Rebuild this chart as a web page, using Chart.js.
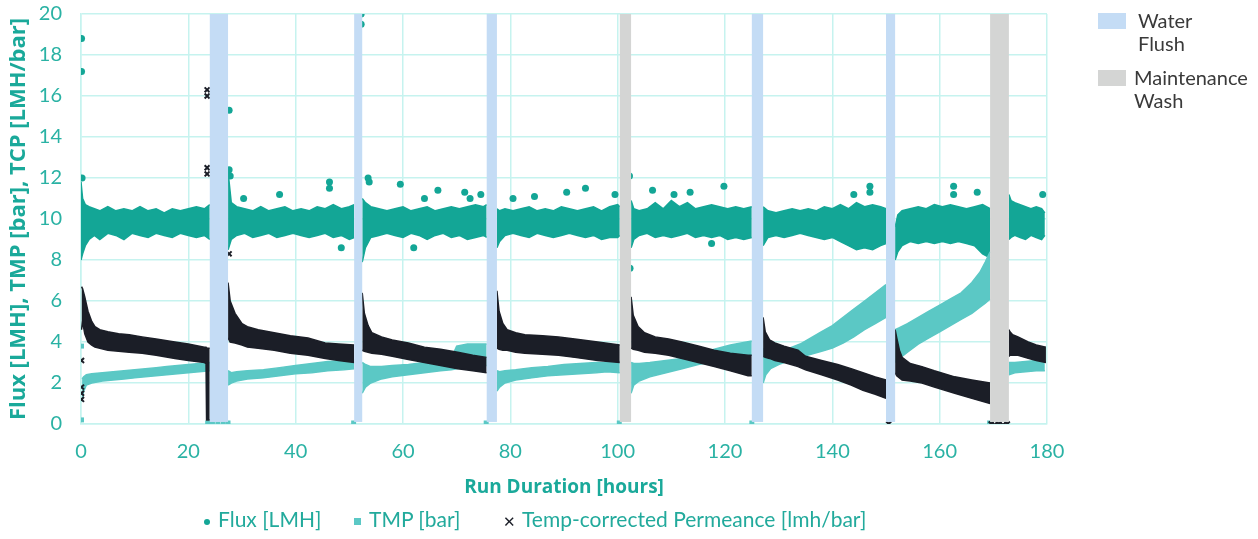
<!DOCTYPE html>
<html>
<head>
<meta charset="utf-8">
<script src="https://cdn.jsdelivr.net/npm/chart.js@4.4.0/dist/chart.umd.min.js"></script>
<style>
    html, body { margin: 0; padding: 0; background: #ffffff; }
    #wrap { position: relative; width: 1258px; height: 539px; font-family: Lato, 'Open Sans', sans-serif; }
    #runChart { position: absolute; left: 0; top: 0; }
    .wash-key { position: absolute; left: 1098px; color: #3a3a3a; font-size: 20px; line-height: 23px; }
    .wash-key .box { position: absolute; left: 0; top: 1px; width: 28px; height: 16px; }
    .wash-key .label { position: absolute; left: 36px; top: -3px; white-space: nowrap; }
    .series-key { position: absolute; top: 506px; color: #22aa9c; font-size: 21px; white-space: nowrap; }
    .series-key .mark { display: inline-block; margin-right: 8px; vertical-align: middle; }
</style>
</head>
<body>
<div id="wrap">
    <canvas id="runChart" width="1258" height="539"></canvas>

    <div class="wash-key" style="top: 12px;"><span class="box" style="background:#c4dcf5"></span><span class="label" style="left:40px">Water<br>Flush</span></div>
    <div class="wash-key" style="top: 69px;"><span class="box" style="background:#d4d5d4"></span><span class="label">Maintenance<br>Wash</span></div>

    <div class="series-key" style="left: 204px;"><span class="mark" style="width:6px;height:6px;border-radius:50%;background:#13a696"></span>Flux [LMH]</div>
    <div class="series-key" style="left: 354px;"><span class="mark" style="width:7px;height:7px;background:#5bc8c5"></span>TMP [bar]</div>
    <div class="series-key" style="left: 503px;"><span class="mark" style="color:#1b1e27;font-size:15px;margin-right:6px">&#x2715;</span>Temp-corrected Permeance [lmh/bar]</div>
</div>

<script>
// ---- data (null = break at a wash) ----
const xTicks = [0, 20, 40, 60, 80, 100, 120, 140, 160, 180];
const yTicks = [0, 2, 4, 6, 8, 10, 12, 14, 16, 18, 20];

// wash periods (hours)
const washStart = [24.0, 50.9, 75.6, 100.4, 125.0, 150.0, 169.4];
const washEnd   = [27.4, 52.4, 77.5, 102.5, 127.1, 151.7, 172.9];
const washKind  = ['water', 'water', 'water', 'maintenance', 'water', 'water', 'maintenance'];

// Flux [LMH] band
const fluxHours = [
    0, 0.3, 0.8, 1.5, 2.5, 3.5, 5, 6.5, 8, 9.5, 11, 12.5, 14, 15.5, 17, 18.5, 20, 21.5, 23, 24, null,
    27.4, 28, 29, 30.5, 32, 33.5, 35, 36.5, 38, 39.5, 41, 42.5, 44, 45.5, 47, 48.5, 50, 50.9, null,
    52.4, 53, 54, 55.5, 57, 58.5, 60, 61.5, 63, 64.5, 66, 67.5, 69, 70.5, 72, 73.5, 75, 75.6, null,
    77.5, 78, 79, 80.5, 82, 83.5, 85, 86.5, 88, 89.5, 91, 92.5, 94, 95.5, 97, 98.5, 100, 100.4, null,
    102.5, 103, 104, 105.5, 107, 108.5, 110, 111.5, 113, 114.5, 116, 117.5, 119, 120.5, 122, 123.5, 125, null,
    127.1, 128, 129.5, 131, 132.5, 134, 135.5, 137, 138.5, 140, 141.5, 143, 144.5, 146, 147.5, 149, 150, null,
    151.7, 152.2, 153, 154.5, 156, 157.5, 159, 160.5, 162, 163.5, 165, 166.5, 168, 169.4, null,
    172.9, 173.3, 174, 175, 176, 177, 178, 179, 179.6
];
const fluxHigh = [
    11.8, 11.0, 10.7, 10.6, 10.5, 10.4, 10.6, 10.4, 10.5, 10.4, 10.6, 10.4, 10.5, 10.3, 10.5, 10.4, 10.5, 10.6, 10.5, 10.7, null,
    12.3, 10.8, 10.6, 10.5, 10.4, 10.6, 10.4, 10.5, 10.6, 10.4, 10.5, 10.4, 10.6, 10.5, 10.7, 10.5, 10.6, 10.7, null,
    11.0, 10.8, 10.6, 10.5, 10.4, 10.5, 10.6, 10.4, 10.5, 10.6, 10.4, 10.5, 10.6, 10.5, 10.6, 10.7, 10.6, 10.7, null,
    10.5, 10.4, 10.5, 10.4, 10.5, 10.6, 10.4, 10.5, 10.4, 10.6, 10.5, 10.4, 10.5, 10.6, 10.4, 10.6, 10.7, 10.6, null,
    10.9, 10.5, 10.4, 10.5, 10.8, 10.5, 10.9, 10.6, 10.8, 10.5, 10.6, 10.7, 10.6, 10.5, 10.6, 10.5, 10.6, null,
    10.6, 10.4, 10.3, 10.4, 10.5, 10.4, 10.5, 10.4, 10.6, 10.5, 10.7, 10.5, 10.8, 10.6, 10.7, 10.6, 10.5, null,
    9.6, 10.2, 10.4, 10.5, 10.6, 10.5, 10.7, 10.6, 10.7, 10.6, 10.5, 10.6, 10.7, 10.5, null,
    11.2, 10.9, 10.8, 10.7, 10.6, 10.5, 10.6, 10.5, 10.3
];
const fluxLow = [
    8.0, 8.3, 8.7, 9.0, 9.2, 9.0, 9.3, 9.2, 9.0, 9.3, 9.2, 9.1, 9.3, 9.2, 9.1, 9.3, 9.2, 9.1, 9.2, 9.0, null,
    8.5, 9.0, 9.2, 9.3, 9.1, 9.2, 9.3, 9.1, 9.2, 9.3, 9.2, 9.1, 9.2, 9.3, 9.1, 9.2, 9.0, 9.1, null,
    7.9, 8.6, 9.1, 9.2, 9.3, 9.2, 9.1, 9.3, 9.2, 9.0, 9.2, 9.3, 9.1, 9.2, 9.0, 9.1, 9.2, 9.1, null,
    8.6, 8.9, 9.2, 9.3, 9.2, 9.1, 9.3, 9.2, 9.1, 9.2, 9.3, 9.2, 9.1, 9.2, 9.0, 9.1, 9.1, 9.2, null,
    8.6, 9.0, 9.2, 9.3, 9.1, 9.2, 9.1, 9.2, 9.3, 9.1, 9.2, 9.1, 9.2, 9.0, 9.1, 9.0, 9.1, null,
    8.7, 9.1, 9.2, 9.1, 9.2, 9.3, 9.2, 9.1, 9.0, 9.1, 8.9, 8.7, 8.5, 8.6, 8.5, 8.7, 8.8, null,
    8.0, 8.4, 8.7, 8.9, 8.8, 8.9, 8.8, 8.9, 8.8, 8.9, 8.8, 8.7, 8.3, 8.1, null,
    9.0, 9.1, 9.2, 9.1, 9.0, 9.2, 9.1, 9.0, 9.2
];

// TMP [bar] band
const tmpHours = [
    0.2, 0.5, 1, 2, 4, 6, 8, 10, 12, 14, 16, 18, 20, 22, 24, null,
    27.4, 28, 29, 31, 34, 37, 40, 43, 46, 49, 50.9, null,
    52.4, 53, 54, 56, 58, 61, 64, 67, 69, 70, 72, 74, 75.6, null,
    77.5, 78, 79, 81, 84, 87, 90, 93, 96, 98, 100.4, null,
    102.5, 103, 104, 106, 109, 112, 115, 118, 121, 123, 125, null,
    127.1, 127.6, 128.5, 130, 132, 134, 136, 138, 140, 142, 144, 146, 148, 150, null,
    151.7, 152.5, 154, 156, 158, 160, 162, 164, 166, 167.5, 168.5, 169.4, null,
    172.9, 174, 176, 178, 179.6
];
const tmpHigh = [
    2.2, 2.3, 2.4, 2.45, 2.5, 2.55, 2.6, 2.65, 2.7, 2.75, 2.8, 2.85, 2.9, 2.95, 3.0, null,
    2.6, 2.5, 2.55, 2.6, 2.65, 2.75, 2.85, 2.95, 3.05, 3.1, 3.15, null,
    3.0, 2.9, 2.8, 2.8, 2.85, 2.9, 3.0, 3.1, 3.2, 3.8, 3.9, 3.9, 3.9, null,
    2.6, 2.55, 2.6, 2.65, 2.75, 2.8, 2.9, 2.95, 3.0, 3.0, 3.05, null,
    3.0, 2.95, 2.95, 3.0, 3.1, 3.2, 3.4, 3.65, 3.85, 3.95, 4.05, null,
    3.7, 3.5, 3.4, 3.5, 3.7, 3.9, 4.2, 4.5, 4.8, 5.2, 5.6, 6.0, 6.4, 6.8, null,
    4.6, 4.7, 4.9, 5.2, 5.5, 5.8, 6.1, 6.4, 6.9, 7.4, 7.9, 8.4, null,
    3.0, 3.0, 3.05, 3.1, 3.1
];
const tmpLow = [
    1.1, 1.6, 1.9, 2.0, 2.1, 2.15, 2.2, 2.25, 2.3, 2.35, 2.4, 2.45, 2.5, 2.55, 2.6, null,
    1.9, 2.0, 2.1, 2.2, 2.25, 2.35, 2.45, 2.5, 2.6, 2.65, 2.7, null,
    1.5, 1.8, 2.0, 2.2, 2.3, 2.4, 2.5, 2.6, 2.65, 2.7, 2.75, 2.8, 2.85, null,
    1.6, 1.8, 2.0, 2.15, 2.25, 2.35, 2.4, 2.45, 2.5, 2.55, 2.5, null,
    1.5, 1.9, 2.1, 2.3, 2.5, 2.7, 2.9, 3.05, 3.2, 3.3, 3.35, null,
    2.0, 2.4, 2.7, 2.9, 3.1, 3.25, 3.4, 3.55, 3.7, 3.95, 4.25, 4.6, 4.9, 5.2, null,
    3.0, 3.2, 3.5, 3.9, 4.2, 4.5, 4.8, 5.1, 5.4, 5.7, 5.9, 6.1, null,
    2.4, 2.5, 2.55, 2.6, 2.6
];

// Temp-corrected permeance [lmh/bar] band
const tcpHours = [
    0.1, 0.3, 0.7, 1.3, 2, 2.6, 3.5, 5, 7, 9, 11.4, 14, 17.5, 20, 23, 23.3, 23.4, 24, null,
    27.4, 27.8, 28.7, 30, 31, 33, 36, 39, 42.3, 45.5, 48, 50.9, null,
    52.4, 52.8, 53.5, 54.2, 56, 58, 61, 64, 67, 70.2, 73, 75.6, null,
    77.5, 77.9, 78.6, 79.4, 81, 82.7, 86, 89, 92, 96.3, 100.4, null,
    102.5, 102.9, 103.8, 105, 107, 109.5, 112, 115, 118, 121, 124.3, 125, null,
    127.1, 127.5, 128.3, 129.3, 131, 133.6, 135, 138, 141, 143.5, 145.7, 148, 150, null,
    151.7, 152, 152.5, 153, 154.5, 156.7, 159, 162.8, 166, 169.4, null,
    172.9, 173.1, 173.6, 174.6, 176.5, 178, 179.8
];
const tcpHigh = [
    6.7, 6.6, 6.2, 5.5, 5.0, 4.75, 4.6, 4.5, 4.4, 4.35, 4.25, 4.15, 4.0, 3.9, 3.75, 3.75, 3.7, 3.7, null,
    6.9, 6.0, 5.4, 4.9, 4.75, 4.6, 4.45, 4.3, 4.2, 3.95, 3.9, 3.85, null,
    6.4, 5.4, 4.8, 4.45, 4.25, 4.1, 3.95, 3.75, 3.65, 3.5, 3.35, 3.25, null,
    6.5, 5.5, 4.9, 4.6, 4.45, 4.35, 4.3, 4.25, 4.15, 4.0, 3.85, null,
    6.2, 5.3, 4.75, 4.45, 4.25, 4.15, 4.0, 3.8, 3.6, 3.45, 3.35, 3.35, null,
    5.2, 4.5, 4.1, 3.95, 3.8, 3.6, 3.3, 3.1, 2.9, 2.7, 2.5, 2.3, 2.15, null,
    4.6, 4.2, 3.6, 3.25, 2.95, 2.8, 2.6, 2.3, 2.15, 2.0, null,
    4.6, 4.5, 4.35, 4.25, 4.0, 3.85, 3.75
];
const tcpLow = [
    4.6, 5.0, 4.4, 4.0, 3.85, 3.75, 3.7, 3.6, 3.55, 3.5, 3.45, 3.35, 3.2, 3.1, 3.0, 2.95, 0.2, 0.2, null,
    4.2, 4.0, 3.95, 3.85, 3.75, 3.7, 3.6, 3.45, 3.35, 3.2, 3.1, 3.0, null,
    3.6, 3.55, 3.5, 3.45, 3.4, 3.3, 3.15, 3.0, 2.85, 2.7, 2.6, 2.5, null,
    3.7, 3.65, 3.6, 3.6, 3.5, 3.45, 3.4, 3.35, 3.25, 3.1, 3.0, null,
    3.7, 3.65, 3.6, 3.5, 3.45, 3.35, 3.2, 3.0, 2.8, 2.6, 2.35, 2.35, null,
    3.3, 3.25, 3.2, 3.1, 3.0, 2.8, 2.65, 2.4, 2.15, 1.9, 1.65, 1.45, 1.25, null,
    2.5, 2.35, 2.25, 2.15, 2.1, 2.0, 1.8, 1.5, 1.25, 1.0, null,
    3.3, 3.35, 3.35, 3.35, 3.2, 3.1, 3.0
];

// stray points outside the bands
const fluxDotX = [0.1, 0.1, 0.2, 27.6, 27.6, 27.8, 30.3, 37, 46.3, 46.3, 52.2, 52.2, 53.5, 53.7, 59.5, 64, 66.5, 71.5, 72.5, 74.5,
    80.5, 84.5, 90.5, 94, 99.5, 102.2, 102.3, 106.5, 110.5, 113.5, 119.8, 117.5, 62, 48.5, 144, 147, 147, 162.6, 162.6, 167, 179.2];
const fluxDotY = [18.8, 17.2, 12.0, 15.3, 12.4, 12.1, 11.0, 11.2, 11.8, 11.5, 20.0, 19.5, 12.0, 11.8, 11.7, 11.0, 11.4, 11.3, 11.0, 11.2,
    11.0, 11.1, 11.3, 11.5, 11.2, 12.1, 7.6, 11.4, 11.2, 11.3, 11.6, 8.8, 8.6, 8.6, 11.2, 11.6, 11.3, 11.6, 11.2, 11.3, 11.2];

const tmpDotX = [0.1, 0.1, 23.6, 24.5, 25.5, 26.5, 27.4, 50.8, 75.5, 100.3, 125.0, 169.3];
const tmpDotY = [3.8, 0.2, 0.05, 0.0, 0.0, 0.0, 0.05, 0.05, 0.05, 0.05, 0.05, 0.05];

const tcpDotX = [0.1, 0.1, 0.1, 0.1, 27.6, 23.5, 23.5, 23.5, 23.5, 101.8, 101.8, 150.5, 169.6, 170.2, 171, 171.8, 172.6];
const tcpDotY = [3.1, 1.8, 1.5, 1.2, 8.3, 16.3, 16.0, 12.5, 12.2, 13.0, 12.6, 0.0, 0.0, -0.05, 0.0, -0.05, 0.0];

// ---- styling ----
const colors = {
    flux: '#13a696',
    tmp: '#5bc8c5',
    tcp: '#1b1e27',
    water: '#c4dcf5',
    maintenance: '#d4d5d4',
    grid: '#c6f3ef',
    tick: '#2ab2a4',
    title: '#1aa99a'
};

function splitSegments(hours, low, high) {
    const segs = [];
    let cur = [];
    hours.forEach((h, i) => {
        if (h === null) {
            if (cur.length) segs.push(cur);
            cur = [];
            return;
        }
        cur.push({ x: h, lo: low[i], hi: high[i] });
    });
    if (cur.length) segs.push(cur);
    return segs;
}

const datasets = [];

function addBand(hours, low, high, color, order) {
    splitSegments(hours, low, high).forEach(seg => {
        datasets.push({
            data: seg.map(p => ({ x: p.x, y: p.lo })),
            borderColor: color,
            borderWidth: 1.5,
            pointRadius: 0,
            fill: false,
            tension: 0,
            order: order
        });
        datasets.push({
            data: seg.map(p => ({ x: p.x, y: p.hi })),
            borderColor: color,
            backgroundColor: color,
            borderWidth: 1.5,
            pointRadius: 0,
            fill: datasets.length - 1,
            tension: 0,
            order: order
        });
    });
}

function addDots(xs, ys, color, style, radius, order) {
    datasets.push({
        data: xs.map((x, i) => ({ x: x, y: ys[i] })),
        showLine: false,
        pointStyle: style,
        pointRadius: radius,
        pointBackgroundColor: color,
        pointBorderColor: color,
        pointBorderWidth: style === 'crossRot' ? 2 : 0,
        order: order
    });
}

addBand(fluxHours, fluxLow, fluxHigh, colors.flux, 6);
addBand(tmpHours, tmpLow, tmpHigh, colors.tmp, 4);
addBand(tcpHours, tcpLow, tcpHigh, colors.tcp, 2);
addDots(fluxDotX, fluxDotY, colors.flux, 'circle', 3.5, 5);
addDots(tmpDotX, tmpDotY, colors.tmp, 'rect', 3.5, 3);
addDots(tcpDotX, tcpDotY, colors.tcp, 'crossRot', 3.5, 1);

// wash periods painted over the data
const washBands = {
    id: 'washBands',
    afterDatasetsDraw(chart) {
        const { ctx, scales: { x, y } } = chart;
        ctx.save();
        washStart.forEach((start, i) => {
            const left = x.getPixelForValue(start);
            const right = x.getPixelForValue(washEnd[i]);
            const top = y.getPixelForValue(20);
            const bottom = y.getPixelForValue(0.1);
            ctx.fillStyle = washKind[i] === 'maintenance' ? colors.maintenance : colors.water;
            ctx.fillRect(left, top, right - left, bottom - top);
        });
        ctx.restore();
    }
};

new Chart(document.getElementById('runChart'), {
    type: 'line',
    data: { datasets: datasets },
    plugins: [washBands],
    options: {
        responsive: false,
        animation: false,
        layout: { padding: { top: 14, right: 211, bottom: 35, left: 0 } },
        plugins: {
            legend: { display: false },
            tooltip: { enabled: false }
        },
        scales: {
            x: {
                type: 'linear',
                min: 0,
                max: 180,
                afterBuildTicks: scale => { scale.ticks = xTicks.map(v => ({ value: v })); },
                afterFit: scale => {
                    scale.height = 80;
                    scale.paddingLeft = 0;
                    scale.paddingRight = 0;
                },
                grid: { color: colors.grid, lineWidth: 1.5, drawTicks: false },
                border: { color: colors.grid, width: 1.5 },
                ticks: { color: colors.tick, padding: 16, font: { family: 'Lato', size: 20 } },
                title: {
                    display: true,
                    text: 'Run Duration [hours]',
                    color: colors.title,
                    font: { family: 'Open Sans', size: 19, weight: 'bold' },
                    padding: { top: 0, bottom: 5 }
                }
            },
            y: {
                min: 0,
                max: 20,
                afterBuildTicks: scale => { scale.ticks = yTicks.map(v => ({ value: v })); },
                afterFit: scale => {
                    scale.width = 81;
                    scale.paddingTop = 0;
                    scale.paddingBottom = 0;
                },
                grid: { color: colors.grid, lineWidth: 1.5, drawTicks: false },
                border: { color: colors.grid, width: 1.5 },
                ticks: { color: colors.tick, padding: 19, font: { family: 'Lato', size: 20 } },
                title: {
                    display: true,
                    text: 'Flux [LMH], TMP [bar], TCP [LMH/bar]',
                    color: colors.title,
                    font: { family: 'Open Sans', size: 22, weight: 'bold' },
                    padding: { top: 6, bottom: 0 }
                }
            }
        }
    }
});
</script>
</body>
</html>
